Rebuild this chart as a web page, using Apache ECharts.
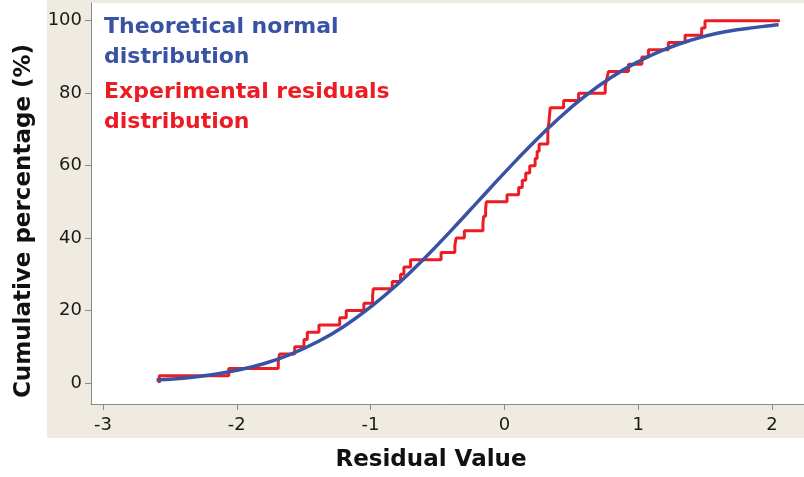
<!DOCTYPE html>
<html>
<head>
<meta charset="utf-8">
<script src="https://cdn.jsdelivr.net/npm/echarts@6.0.0/dist/echarts.min.js"></script>
<style>
  html, body { margin: 0; padding: 0; background: #fff; }
  #chart { width: 804px; height: 477px; }
</style>
</head>
<body>
<div id="chart"></div>
<script>
// empirical CDF of residuals (step jumps) vs theoretical normal CDF
const xTicks = [-3, -2, -1, 0, 1, 2]
const yTicks = [0, 20, 40, 60, 80, 100]

// red step line: x where the cumulative % jumps to the given level
const residX = [-2.58, -2.58, -2.06, -1.69, -1.68, -1.567, -1.498, -1.473, -1.386, -1.231,
  -1.182, -1.05, -0.985, -0.98, -0.838, -0.776, -0.751, -0.701, -0.473, -0.37,
  -0.36, -0.299, -0.16, -0.155, -0.14, -0.135, 0.02, 0.107, 0.134, 0.16,
  0.19, 0.23, 0.245, 0.26, 0.325, 0.333, 0.343, 0.443, 0.555, 0.754,
  0.766, 0.778, 0.928, 1.028, 1.077, 1.226, 1.351, 1.475, 1.5, 2.06]
const residPct = [0, 2, 4, 6, 8, 10, 12, 14, 16, 18,
  20, 22, 24, 26, 28, 30, 32, 34, 36, 38,
  40, 42, 44, 46, 48, 50, 52, 54, 56, 58,
  60, 62, 64, 66, 70, 72, 76, 78, 80, 82,
  84, 86, 88, 90, 92, 94, 96, 98, 100, 100]

// blue curve
const normX = [-2.6, -2.4, -2.2, -2.0, -1.8, -1.6, -1.4, -1.2, -1.0, -0.8, -0.6, -0.4, -0.2,
  0, 0.2, 0.4, 0.6, 0.8, 1.0, 1.2, 1.4, 1.6, 1.8, 2.0, 2.05]
const normPct = [0.8, 1.3, 2.2, 3.5, 5.3, 7.9, 11.3, 15.6, 21.0, 27.2, 34.3, 42.0, 50.0,
  58.0, 65.7, 72.8, 79.1, 84.4, 88.7, 92.1, 94.7, 96.6, 97.8, 98.7, 98.9]

const BLUE = '#3953a4'
const RED = '#ed1c24'
const titleFont = '"DejaVu Sans", Verdana, sans-serif'

const chart = echarts.init(document.getElementById('chart'))

const option = {
  backgroundColor: '#fff',
  animation: false,
  graphic: [
    { type: 'rect', z: -10, silent: true,
      shape: { x: 47, y: 0, width: 757, height: 438 },
      style: { fill: '#efebe1' } },
    { type: 'text', left: 104, top: 12, z: 100,
      style: { text: 'Theoretical normal\ndistribution', fill: BLUE,
        font: 'bold 22px ' + titleFont, lineHeight: 30 } },
    { type: 'text', left: 104, top: 77, z: 100,
      style: { text: 'Experimental residuals\ndistribution', fill: RED,
        font: 'bold 22px ' + titleFont, lineHeight: 30 } },
    { type: 'text', x: 431, y: 460, z: 100,
      style: { text: 'Residual Value', fill: '#111', align: 'center', verticalAlign: 'middle',
        font: 'bold 23px ' + titleFont } },
    { type: 'text', x: 24, y: 221, rotation: Math.PI / 2, z: 100,
      style: { text: 'Cumulative percentage (%)', fill: '#111', align: 'center', verticalAlign: 'middle',
        font: 'bold 23px ' + titleFont } }
  ],
  grid: {
    left: 91, right: 0, top: 3, bottom: 73,
    show: true, backgroundColor: '#fff', borderWidth: 0
  },
  xAxis: {
    type: 'value', min: -3.09, max: 2.24,
    axisLine: { show: true, onZero: false, lineStyle: { color: '#8a8a8a', width: 1 } },
    axisTick: { show: true, length: 6, customValues: xTicks, lineStyle: { color: '#8a8a8a' } },
    axisLabel: { customValues: xTicks, margin: 12, color: '#1a1a1a', fontSize: 18,
      fontFamily: '"DejaVu Sans", Verdana, sans-serif' },
    splitLine: { show: false }
  },
  yAxis: {
    type: 'value', min: -5.8, max: 104.9,
    axisLine: { show: true, onZero: false, lineStyle: { color: '#8a8a8a', width: 1 } },
    axisTick: { show: true, length: 6, customValues: yTicks, lineStyle: { color: '#8a8a8a' } },
    axisLabel: { customValues: yTicks, margin: 9, color: '#1a1a1a', fontSize: 18,
      fontFamily: '"DejaVu Sans", Verdana, sans-serif' },
    splitLine: { show: false }
  },
  series: [
    {
      name: 'Experimental residuals distribution',
      type: 'line',
      step: 'end',
      data: residX.map((x, i) => [x, residPct[i]]),
      showSymbol: false,
      lineStyle: { color: RED, width: 3 },
      z: 2
    },
    {
      name: 'Theoretical normal distribution',
      type: 'line',
      smooth: true,
      data: normX.map((x, i) => [x, normPct[i]]),
      showSymbol: false,
      lineStyle: { color: BLUE, width: 3.5 },
      z: 3
    }
  ]
}

chart.setOption(option)
window.addEventListener('resize', () => chart.resize())
</script>
</body>
</html>
